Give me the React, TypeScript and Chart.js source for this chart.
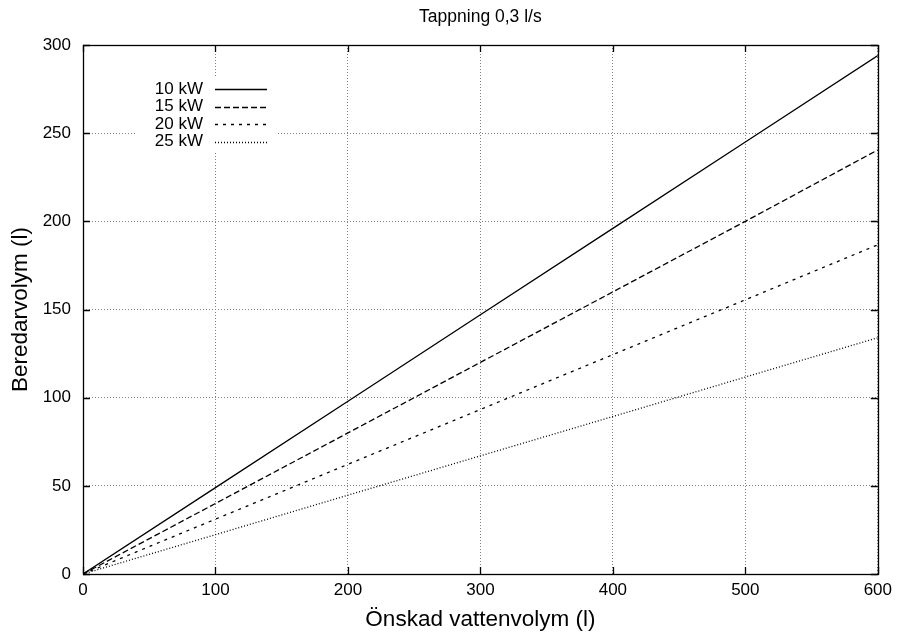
import React, { useEffect, useRef } from "react";
import { Chart, registerables } from "chart.js";

Chart.register(...registerables);

const xValues = [0, 100, 200, 300, 400, 500, 600];
const series10kW = [0, 49, 98, 147, 196, 245, 294];
const series15kW = [0, 40, 80, 120, 160, 200, 240.5];
const series20kW = [0, 31.1, 62.2, 93.3, 124.4, 155.5, 186.7];
const series25kW = [0, 22.3, 44.7, 67, 89.3, 111.7, 134];
const seriesLabels = ["10 kW", "15 kW", "20 kW", "25 kW"];
const seriesDashes: number[][] = [[], [6, 3], [3, 5], [1, 2]];
const xTickStep = 100;
const yTickStep = 50;
const xMax = 600;
const yMax = 300;
const chartTitle = "Tappning 0,3 l/s";
const xTitle = "Önskad vattenvolym (l)";
const yTitle = "Beredarvolym (l)";

const FONT = "'Liberation Sans', Arial, Helvetica, sans-serif";

const decorPlugin = {
  id: "decor",
  afterDatasetsDraw(chart: any) {
    const ctx = chart.ctx;
    const { left, right, top, bottom } = chart.chartArea;
    const xs = chart.scales.x;
    const ys = chart.scales.y;
    ctx.save();
    // legend box
    ctx.fillStyle = "#ffffff";
    ctx.fillRect(137, 78, 139, 75);
    ctx.font = `17px ${FONT}`;
    ctx.textAlign = "right";
    ctx.textBaseline = "middle";
    const rows = [89, 106.5, 124, 141.5];
    seriesLabels.forEach((lab, i) => {
      ctx.fillStyle = "#000";
      ctx.fillText(lab, 203, rows[i]);
      ctx.beginPath();
      ctx.setLineDash(seriesDashes[i]);
      ctx.strokeStyle = "#000";
      ctx.lineWidth = 1.3;
      ctx.moveTo(215, Math.round(rows[i]) + 0.5);
      ctx.lineTo(267, Math.round(rows[i]) + 0.5);
      ctx.stroke();
    });
    ctx.setLineDash([]);
    // frame
    ctx.strokeStyle = "#000";
    ctx.lineWidth = 1.3;
    ctx.strokeRect(Math.round(left) + 0.5, Math.round(top) + 0.5, Math.round(right - left), Math.round(bottom - top));
    // inward ticks
    const tl = 7;
    ctx.beginPath();
    for (let v = 0; v <= xMax; v += xTickStep) {
      const px = Math.round(xs.getPixelForValue(v)) + 0.5;
      ctx.moveTo(px, bottom);
      ctx.lineTo(px, bottom - tl);
      ctx.moveTo(px, top);
      ctx.lineTo(px, top + tl);
    }
    for (let v = 0; v <= yMax; v += yTickStep) {
      const py = Math.round(ys.getPixelForValue(v)) + 0.5;
      ctx.moveTo(left, py);
      ctx.lineTo(left + tl, py);
      ctx.moveTo(right, py);
      ctx.lineTo(right - tl, py);
    }
    ctx.stroke();
    // titles
    ctx.fillStyle = "#000";
    ctx.textAlign = "center";
    ctx.textBaseline = "middle";
    ctx.font = `17.5px ${FONT}`;
    ctx.fillText(chartTitle, (left + right) / 2, 17);
    ctx.font = `22.5px ${FONT}`;
    ctx.fillText(xTitle, (left + right) / 2, 620);
    ctx.translate(21, (top + bottom) / 2);
    ctx.rotate(-Math.PI / 2);
    ctx.fillText(yTitle, 0, 0);
    ctx.restore();
  },
};

export default function App() {
  const ref = useRef<HTMLCanvasElement | null>(null);
  useEffect(() => {
    if (!ref.current) return;
    const all = [series10kW, series15kW, series20kW, series25kW];
    const chart = new Chart(ref.current, {
      type: "line",
      data: {
        datasets: all.map((s, i) => ({
          label: seriesLabels[i],
          data: s.map((y, j) => ({ x: xValues[j], y })),
          borderColor: "#000",
          borderWidth: 1.3,
          borderDash: seriesDashes[i],
          pointRadius: 0,
          fill: false,
          tension: 0,
        })),
      },
      options: {
        animation: false,
        responsive: false,
        layout: { padding: { top: 45, right: 18, left: 0, bottom: 0 } },
        plugins: { legend: { display: false }, title: { display: false }, tooltip: { enabled: false } },
        scales: {
          x: {
            type: "linear",
            min: 0,
            max: xMax,
            afterFit: (s: any) => {
              s.height = 61;
            },
            ticks: { stepSize: xTickStep, color: "#000", font: { size: 17, family: FONT }, padding: 6, maxRotation: 0 },
            grid: { color: "#808080", drawTicks: false, lineWidth: 1 },
            border: { display: false, dash: [1, 2] },
          },
          y: {
            type: "linear",
            min: 0,
            max: yMax,
            afterFit: (s: any) => {
              s.width = 83;
            },
            ticks: { stepSize: yTickStep, color: "#000", font: { size: 17, family: FONT }, padding: 12 },
            grid: { color: "#808080", drawTicks: false, lineWidth: 1 },
            border: { display: false, dash: [1, 2] },
          },
        },
      },
      plugins: [decorPlugin],
    } as any);
    return () => chart.destroy();
  }, []);
  return (
    <div style={{ position: "absolute", left: 0, top: 0, width: 898, height: 635, background: "#fff" }}>
      <canvas ref={ref} width={898} height={635} />
    </div>
  );
}
